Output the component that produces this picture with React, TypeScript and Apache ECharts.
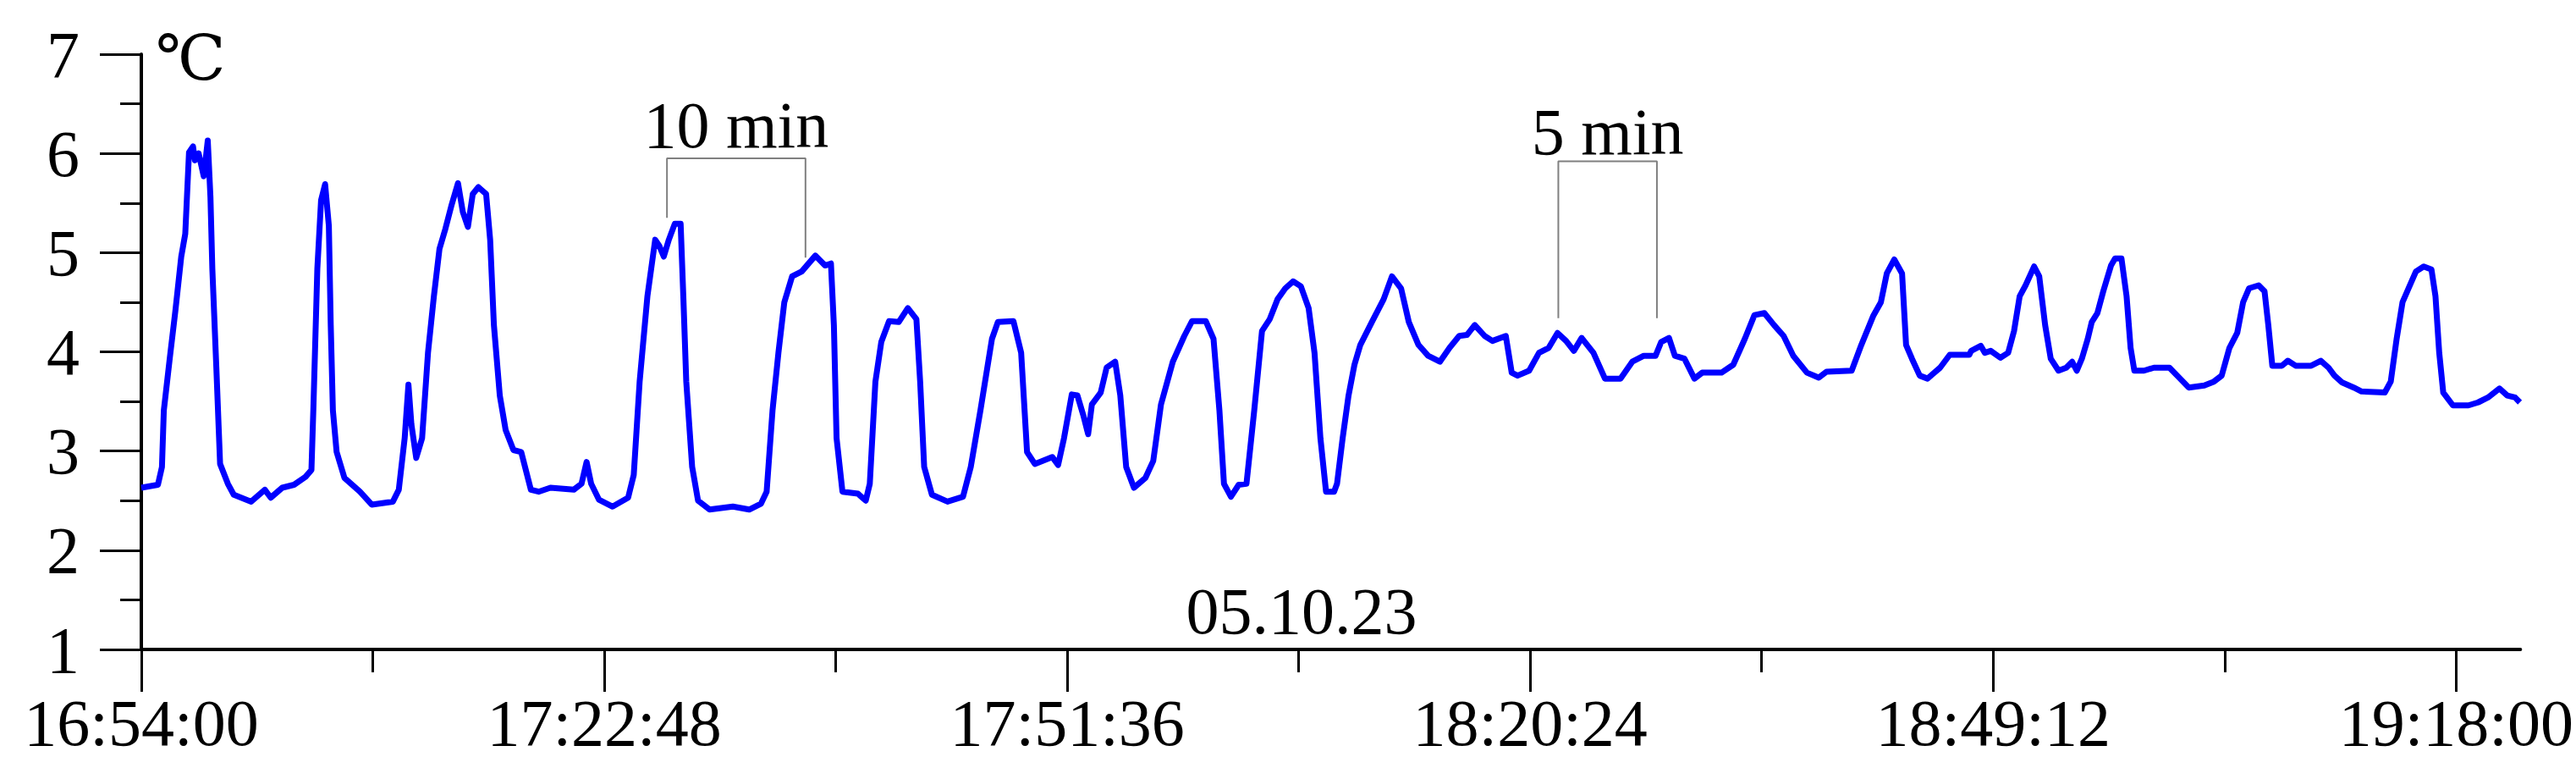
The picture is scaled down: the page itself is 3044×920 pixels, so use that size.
import React, { useEffect, useRef } from 'react';
import * as echarts from 'echarts';

// seconds elapsed since 16:54:00
const times = [
  0, 62, 77, 84, 106, 127, 149, 164, 178, 193, 200, 214, 233, 248, 258, 265, 280, 294, 323, 345,
  410, 461, 483, 526, 570, 613, 635, 642, 657, 671, 686, 700, 707, 715, 729, 758, 816, 860, 939, 961,
  983, 997, 1008, 1026, 1048, 1070, 1092, 1113, 1135, 1157, 1182, 1200, 1219, 1237, 1258, 1287, 1302, 1316, 1338, 1360,
  1389, 1418, 1454, 1483, 1527, 1614, 1643, 1662, 1679, 1708, 1759, 1817, 1838, 1860, 1889, 1918, 1933, 1950, 1969, 1991,
  2013, 2023, 2034, 2056, 2078, 2121, 2208, 2269, 2313, 2334, 2356, 2378, 2400, 2429, 2465, 2516, 2552, 2574, 2585, 2595,
  2617, 2675, 2704, 2719, 2740, 2762, 2791, 2827, 2861, 2893, 2907, 2922, 2951, 3009, 3067, 3096, 3132, 3175, 3197, 3255,
  3284, 3306, 3335, 3400, 3422, 3444, 3473, 3494, 3516, 3534, 3548, 3581, 3603, 3635, 3654, 3676, 3705, 3748, 3777, 3806,
  3850, 3893, 3922, 3973, 4002, 4024, 4041, 4067, 4096, 4125, 4154, 4183, 4212, 4241, 4270, 4299, 4328, 4357, 4379, 4401,
  4422, 4452, 4463, 4484, 4506, 4528, 4550, 4593, 4637, 4668, 4702, 4731, 4767, 4803, 4847, 4883, 4919, 4948, 4977, 5014,
  5043, 5093, 5115, 5137, 5180, 5217, 5253, 5286, 5318, 5347, 5376, 5420, 5463, 5521, 5565, 5608, 5652, 5673, 5702, 5724,
  5760, 5797, 5826, 5898, 5942, 5985, 6021, 6058, 6094, 6130, 6166, 6217, 6261, 6290, 6384, 6420, 6464, 6493, 6515, 6543,
  6572, 6587, 6609, 6638, 6667, 6714, 6750, 6823, 6830, 6866, 6881, 6903, 6939, 6968, 6990, 7011, 7033, 7065, 7084, 7106,
  7127, 7156, 7185, 7207, 7224, 7243, 7265, 7280, 7301, 7323, 7352, 7367, 7391, 7410, 7425, 7439, 7475, 7512, 7570, 7599,
  7642, 7700, 7736, 7765, 7794, 7823, 7845, 7867, 7903, 7925, 7939, 7954, 7990, 8012, 8041, 8099, 8135, 8164, 8186, 8215,
  8258, 8287, 8374, 8396, 8418, 8440, 8461, 8490, 8519, 8548, 8563, 8577, 8592, 8628, 8686, 8722, 8759, 8802, 8831, 8860,
  8878,
];

// temperature, °C
const temps = [
  2.63, 2.66, 2.84, 3.41, 3.93, 4.41, 4.96, 5.19, 6.01, 6.07, 5.93, 6.0, 5.77, 6.13, 5.56, 4.84, 3.84, 2.87, 2.67, 2.56,
  2.49, 2.61, 2.53, 2.63, 2.66, 2.74, 2.81, 3.41, 4.84, 5.53, 5.69, 5.27, 4.27, 3.41, 2.99, 2.73, 2.59, 2.46, 2.49, 2.61,
  3.13, 3.67, 3.27, 2.93, 3.13, 3.99, 4.56, 5.04, 5.24, 5.47, 5.7, 5.41, 5.26, 5.59, 5.66, 5.59, 5.13, 4.27, 3.56, 3.21,
  3.01, 2.99, 2.61, 2.59, 2.63, 2.61, 2.67, 2.89, 2.67, 2.51, 2.44, 2.53, 2.76, 3.7, 4.56, 5.13, 5.07, 4.96, 5.13, 5.29,
  5.29, 4.56, 3.7, 2.84, 2.5, 2.41, 2.44, 2.41, 2.47, 2.59, 3.41, 3.99, 4.5, 4.76, 4.81, 4.97, 4.87, 4.89, 4.27, 3.13,
  2.59, 2.57, 2.5, 2.67, 3.7, 4.1, 4.31, 4.3, 4.44, 4.33, 3.7, 2.84, 2.56, 2.49, 2.54, 2.84, 3.41, 4.13, 4.3, 4.31,
  3.99, 2.99, 2.87, 2.94, 2.86, 3.13, 3.57, 3.56, 3.36, 3.17, 3.47, 3.59, 3.84, 3.9, 3.56, 2.84, 2.63, 2.73, 2.9, 3.47,
  3.9, 4.16, 4.31, 4.31, 4.13, 3.41, 2.67, 2.54, 2.66, 2.67, 3.41, 4.21, 4.33, 4.53, 4.64, 4.71, 4.66, 4.44, 3.99, 3.13,
  2.59, 2.59, 2.67, 3.13, 3.56, 3.87, 4.07, 4.3, 4.53, 4.76, 4.64, 4.3, 4.07, 3.96, 3.9, 4.04, 4.16, 4.17, 4.27, 4.16,
  4.11, 4.16, 3.79, 3.76, 3.81, 3.99, 4.04, 4.19, 4.11, 4.01, 4.14, 3.99, 3.73, 3.73, 3.9, 3.96, 3.96, 4.1, 4.14, 3.96,
  3.93, 3.73, 3.79, 3.79, 3.87, 4.13, 4.37, 4.39, 4.27, 4.16, 3.96, 3.79, 3.74, 3.8, 3.81, 4.07, 4.36, 4.5, 4.79, 4.93,
  4.79, 4.07, 3.93, 3.76, 3.73, 3.84, 3.97, 3.97, 4.01, 4.06, 3.99, 4.01, 3.94, 3.99, 4.21, 4.56, 4.67, 4.86, 4.76, 4.27,
  3.93, 3.81, 3.84, 3.9, 3.81, 3.93, 4.13, 4.3, 4.39, 4.61, 4.87, 4.94, 4.94, 4.56, 4.04, 3.81, 3.81, 3.84, 3.84, 3.76,
  3.64, 3.66, 3.7, 3.76, 4.04, 4.19, 4.5, 4.64, 4.67, 4.61, 4.27, 3.86, 3.86, 3.91, 3.86, 3.86, 3.91, 3.84, 3.76, 3.69,
  3.64, 3.6, 3.59, 3.7, 4.13, 4.5, 4.63, 4.81, 4.86, 4.83, 4.56, 3.99, 3.59, 3.46, 3.46, 3.49, 3.54, 3.63, 3.56, 3.54,
  3.49,
];

const startSeconds = 16 * 3600 + 54 * 60;
const axisMaxSeconds = 8880;
const majorTickTimes = [0, 1728, 3456, 5184, 6912, 8640];
const minorTickTimes = [864, 2592, 4320, 6048, 7776];
const yMin = 1;
const yMax = 7;

// annotation brackets [seconds, °C]
const bracket10min = [[1962, 5.35], [1962, 5.95], [2479, 5.95], [2479, 4.95]];
const bracket5min = [[5289, 4.34], [5289, 5.92], [5657, 5.92], [5657, 4.34]];
const bracketLabels = ['10 min', '5 min'];
const bracketLabelPos = [[2220, 6.29], [5473, 6.22]];
const dateLabel = '05.10.23';
const unitLabel = '℃';

const FONT = '"Liberation Serif", "Times New Roman", serif';
const UNIT_FONT = '"DejaVu Serif", "Liberation Serif", serif';

function fmtTime(s: number): string {
  const t = startSeconds + Math.round(s);
  const h = Math.floor(t / 3600);
  const m = Math.floor((t % 3600) / 60);
  const sec = t % 60;
  const p = (n: number) => (n < 10 ? '0' + n : '' + n);
  return p(h) + ':' + p(m) + ':' + p(sec);
}

export default function App() {
  const ref = useRef<HTMLDivElement>(null);
  useEffect(() => {
    document.body.style.margin = '0';
    if (!ref.current) return;
    const chart = echarts.init(ref.current, undefined, { renderer: 'svg' });
    const axisLineStyle = { color: '#000', width: 4 };
    const tickStyle = { color: '#000', width: 3 };
    const labelStyle = { fontFamily: FONT, fontSize: 78, color: '#000' };
    chart.setOption({
      animation: false,
      backgroundColor: '#fff',
      grid: { left: 167, right: 57, top: 64, bottom: 153, containLabel: false },
      xAxis: [
        {
          type: 'value',
          min: 0,
          max: axisMaxSeconds,
          position: 'bottom',
          axisLine: { show: true, onZero: false, lineStyle: axisLineStyle },
          axisTick: { show: true, customValues: majorTickTimes, length: 50, lineStyle: tickStyle },
          axisLabel: {
            show: true,
            customValues: majorTickTimes,
            formatter: (v: number) => fmtTime(v),
            margin: 86,
            verticalAlign: 'middle',
            ...labelStyle,
          },
          splitLine: { show: false },
        },
        {
          type: 'value',
          min: 0,
          max: axisMaxSeconds,
          position: 'bottom',
          axisLine: { show: false, onZero: false },
          axisTick: { show: true, customValues: minorTickTimes, length: 27, lineStyle: tickStyle },
          axisLabel: { show: false },
          splitLine: { show: false },
        },
      ],
      yAxis: {
        type: 'value',
        min: yMin,
        max: yMax,
        interval: 1,
        axisLine: { show: true, onZero: false, lineStyle: axisLineStyle },
        axisTick: { show: true, length: 49, lineStyle: tickStyle },
        minorTick: { show: true, splitNumber: 2, length: 25, lineStyle: tickStyle },
        axisLabel: { margin: 73, ...labelStyle },
        splitLine: { show: false },
        minorSplitLine: { show: false },
      },
      series: [
        {
          type: 'line',
          data: times.map((t, i) => [t, temps[i]]),
          showSymbol: false,
          silent: true,
          lineStyle: { color: '#0000ff', width: 7, join: 'round' },
          z: 3,
        },
        {
          type: 'line',
          data: bracket10min,
          showSymbol: false,
          silent: true,
          lineStyle: { color: '#808080', width: 2 },
          z: 2,
        },
        {
          type: 'line',
          data: bracket5min,
          showSymbol: false,
          silent: true,
          lineStyle: { color: '#808080', width: 2 },
          z: 2,
        },
      ],
    });
    const labelGraphics = bracketLabels.map((txt, i) => {
      const p = chart.convertToPixel({ gridIndex: 0 }, bracketLabelPos[i]) as number[];
      return {
        type: 'text',
        x: p[0],
        y: p[1],
        style: { text: txt, font: `78px ${FONT}`, fill: '#000', textAlign: 'center', verticalAlign: 'middle' },
      };
    });
    chart.setOption({
      graphic: [
        ...labelGraphics,
        {
          type: 'text',
          x: 1538,
          y: 721,
          style: { text: dateLabel, font: `78px ${FONT}`, fill: '#000', textAlign: 'center', verticalAlign: 'middle' },
        },
        {
          type: 'text',
          x: 184,
          y: 68,
          style: { text: unitLabel, font: `74px ${UNIT_FONT}`, fill: '#000', textAlign: 'left', verticalAlign: 'middle' },
        },
      ],
    });
    return () => chart.dispose();
  }, []);
  return <div ref={ref} style={{ width: 3044, height: 920 }} />;
}
